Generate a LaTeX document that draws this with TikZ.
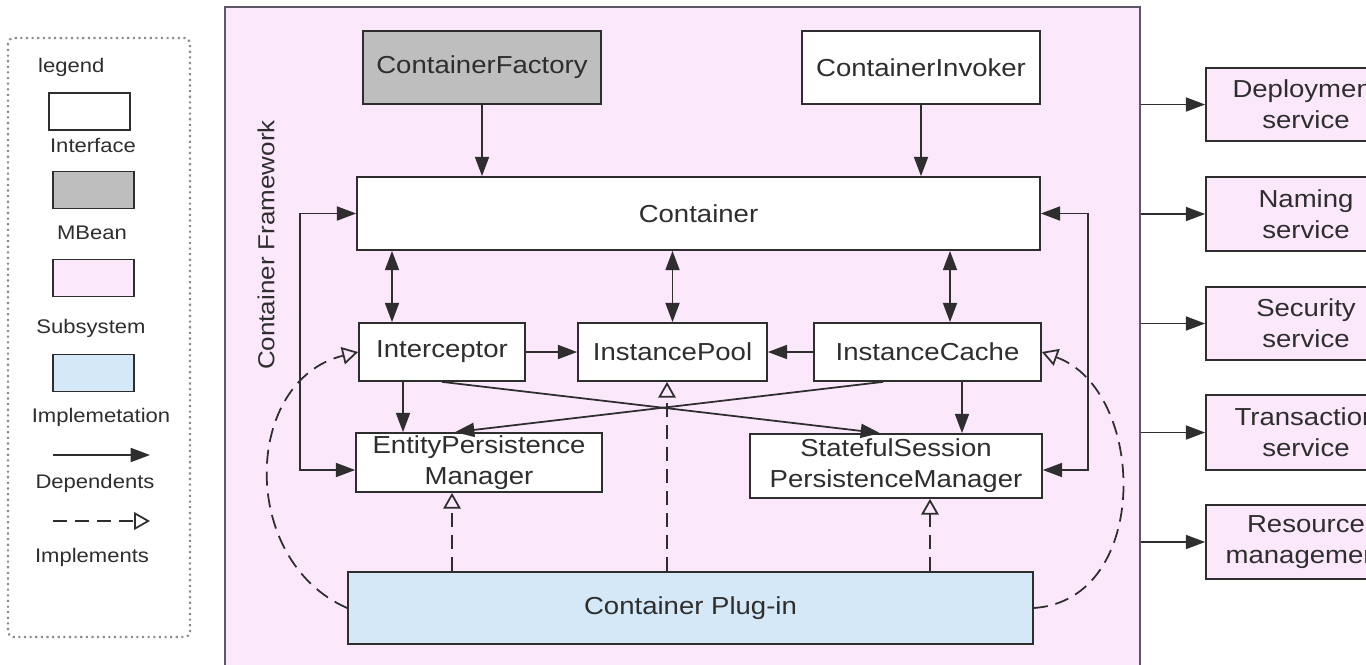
\documentclass[tikz,border=0pt]{standalone}
\usepackage{fontspec}
\setmainfont{Liberation Sans}[FakeStretch=1.12]
\usetikzlibrary{arrows.meta, positioning, calc}
\definecolor{cpink}{HTML}{FCE8FB}
\definecolor{cgrey}{HTML}{BEBEBE}
\definecolor{cblue}{HTML}{D5E8F8}
\definecolor{cline}{HTML}{2E2E2E}
\definecolor{cframe}{HTML}{5E5664}
\definecolor{cdots}{HTML}{8C8C8C}

\begin{document}
\begin{tikzpicture}[x=0.02cm, y=-0.02cm,
  box/.style={draw=cline, line width=1pt, fill=white, inner sep=0pt, align=center,
    text=cline, font=\fontsize{14}{17.5}\selectfont},
  mbean/.style={box, fill=cgrey},
  plugin/.style={box, fill=cblue},
  service/.style={box, fill=cpink, minimum width=4cm},
  lbox/.style={draw=cline, line width=1pt, minimum width=1.62cm, minimum height=0.74cm, inner sep=0pt},
  ltext/.style={font=\fontsize{11.2}{13}\selectfont, text=cline},
  dep/.style={-{Triangle[length=11pt,width=8pt]}, line width=1pt, draw=cline},
  bidir/.style={{Triangle[length=11pt,width=8pt]}-{Triangle[length=11pt,width=8pt]}, line width=1pt, draw=cline},
  implements/.style={-{Triangle[open,length=9pt,width=10pt]}, line width=1pt, draw=cline, dash pattern=on 8pt off 4.5pt}
]
  \useasboundingbox (0,0) rectangle (1366,664);
  \clip (0,0) rectangle (1366,664);

  % legend
  \draw[cdots, line width=1.2pt, dotted, rounded corners=3pt] (8,38) rectangle (190,637);
  \node[ltext, anchor=west] (lgd) at (32,67) {legend};
  \node[lbox, fill=white] (lint) at (89.5,111.5) {};
  \node[ltext] (lintT) at (93,145) {Interface};
  \node[lbox, fill=cgrey] (lmb) at (93.5,190) {};
  \node[ltext] (lmbT) at (92,233) {MBean};
  \node[lbox, fill=cpink] (lsub) at (93.5,278) {};
  \node[ltext] (lsubT) at (91,328) {Subsystem};
  \node[lbox, fill=cblue] (limp) at (93.5,373) {};
  \node[ltext] (limpT) at (101,417) {Implemetation};
  \coordinate (depA) at (53,455);
  \coordinate (depB) at (150,455);
  \draw[dep] (depA) -- (depB);
  \node[ltext] (ldepT) at (95,483) {Dependents};
  \coordinate (impA) at (53,521);
  \coordinate (impB) at (150,521);
  \draw[implements] (impA) -- (impB);
  \node[ltext] (limplT) at (92,557) {Implements};

  % container framework
  \node[draw=cframe, line width=1.2pt, fill=cpink, minimum width=18.3cm, minimum height=13.46cm,
    inner sep=0pt] (frame) at (682.5,343.5) {};
  \node[rotate=90, text=cline, font=\fontsize{13.2}{15}\selectfont] (fwlabel) at (266,245) {Container Framework};

  \node[mbean, minimum width=4.76cm, minimum height=1.46cm] (factory) at (482,67.5) {ContainerFactory};
  \node[box, minimum width=4.76cm, minimum height=1.46cm] (invoker) at (921,67.5) {ContainerInvoker};
  \node[box, minimum width=13.66cm, minimum height=1.46cm] (cont) at (698.5,213.5) {Container};
  \node[box, minimum width=3.32cm, minimum height=1.16cm] (icpt) at (442,352) {Interceptor};
  \node[box, minimum width=3.78cm, minimum height=1.16cm] (pool) at (672.5,352) {InstancePool};
  \node[box, minimum width=4.54cm, minimum height=1.16cm] (cache) at (927.5,352) {InstanceCache};
  \node[box, minimum width=4.92cm, minimum height=1.18cm] (epm) at (479,462.5) {EntityPersistence\\Manager};
  \node[box, minimum width=5.84cm, minimum height=1.28cm] (sspm) at (896,466) {StatefulSession\\PersistenceManager};
  \node[plugin, minimum width=13.7cm, minimum height=1.44cm] (plug) at (690.5,608) {Container Plug-in};

  % services
  \node[service, minimum height=1.46cm] (deploy) at (1306,104.5) {Deployment\\service};
  \node[service, minimum height=1.48cm] (naming) at (1306,214) {Naming\\service};
  \node[service, minimum height=1.46cm] (security) at (1306,323.5) {Security\\service};
  \node[service, minimum height=1.5cm] (trans) at (1306,432.5) {Transaction\\service};
  \node[service, minimum height=1.48cm] (resource) at (1306,542) {Resource\\management};

  % dependents
  \draw[dep] (factory.south) -- (factory.south |- cont.north);
  \draw[dep] (invoker.south) -- (invoker.south |- cont.north);
  \draw[bidir] ([xshift=-1cm]icpt.north) -- ([xshift=-1cm]icpt.north |- cont.south);
  \draw[bidir] (pool.north) -- (pool.north |- cont.south);
  \draw[bidir] ([xshift=0.45cm]cache.north) -- ([xshift=0.45cm]cache.north |- cont.south);
  \draw[dep] (icpt.east) -- (pool.west);
  \draw[dep] (cache.west) -- (pool.east);
  \draw[dep] ([xshift=-0.78cm]icpt.south) -- ([xshift=-0.78cm]icpt.south |- epm.north);
  \draw[dep] ([xshift=0.69cm]cache.south) -- ([xshift=0.69cm]cache.south |- sspm.north);
  \draw[dep] (icpt.south) -- ([xshift=-0.32cm]sspm.north);
  \draw[dep] ([xshift=-0.89cm]cache.south) -- ([xshift=-0.48cm]epm.north);
  \coordinate (lloop) at (300,340);
  \coordinate (rloop) at (1088,340);
  \draw[bidir] (cont.west) -| (lloop) |- ([yshift=-0.15cm]epm.west);
  \draw[bidir] (cont.east) -| (rloop) |- ([yshift=-0.08cm]sspm.east);
  \foreach \s in {deploy,naming,security,trans,resource}
    \draw[dep] (frame.east |- \s.west) -- (\s.west);

  % implements
  \draw[implements] ([xshift=-0.54cm]epm.south |- plug.north) -- ([xshift=-0.54cm]epm.south);
  \draw[implements] ([xshift=-0.11cm]pool.south |- plug.north) -- ([xshift=-0.11cm]pool.south);
  \draw[implements] ([xshift=0.68cm]sspm.south |- plug.north) -- ([xshift=0.68cm]sspm.south);
  \draw[implements] (plug.west) .. controls (238,560) and (243,380) .. (icpt.west);
  \draw[implements] (plug.east) .. controls (1152,600) and (1147,390) .. (cache.east);
\end{tikzpicture}
\end{document}
